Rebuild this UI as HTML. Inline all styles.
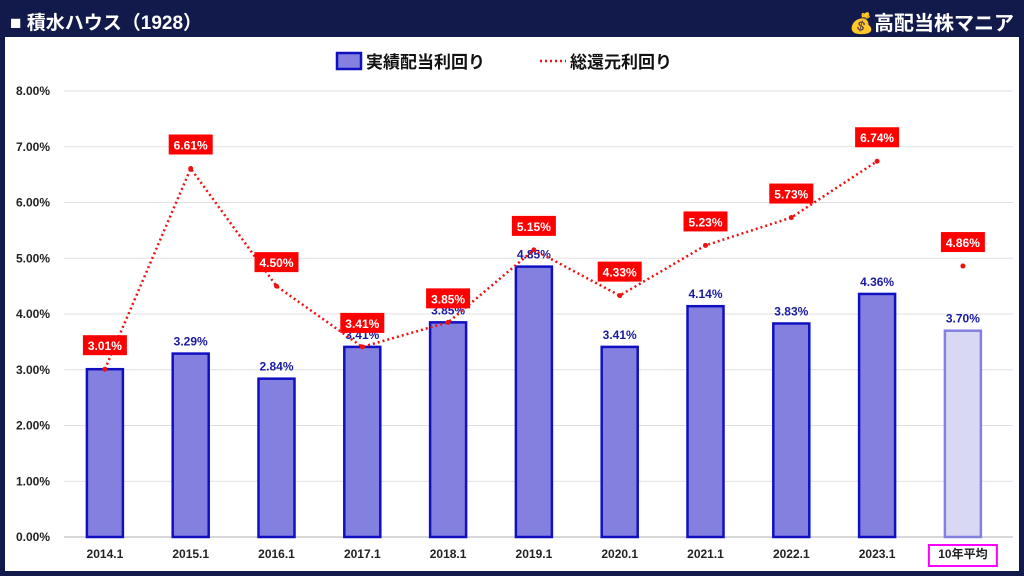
<!DOCTYPE html>
<html><head><meta charset="utf-8"><style>
body{margin:0;width:1024px;height:576px;background:#111a4a;font-family:"Liberation Sans","Noto Sans CJK JP",sans-serif;overflow:hidden}
#panel{position:absolute;left:5px;top:37px;width:1014px;height:534px;background:#fff}
</style></head><body>
<div style="position:absolute;left:10px;top:8px;color:#fff;font-size:19px;font-weight:bold;">■ 積水ハウス（1928）</div>
<div style="position:absolute;right:10px;top:7px;color:#fff;font-size:20px;font-weight:bold;"><span style="color:#f0c020">💰</span>高配当株マニア</div>
<div id="panel"></div>
<svg id="c" width="1024" height="576" style="position:absolute;left:0;top:0"></svg>
<script>
const categories=["2014.1","2015.1","2016.1","2017.1","2018.1","2019.1","2020.1","2021.1","2022.1","2023.1","10年平均"];
const dividendYield=[3.01,3.29,2.84,3.41,3.85,4.85,3.41,4.14,3.83,4.36,3.70];
const totalYield=[3.01,6.61,4.50,3.41,3.85,5.15,4.33,5.23,5.73,6.74,4.86];
const yTicks=[0,1,2,3,4,5,6,7,8];
const NS="http://www.w3.org/2000/svg";
const svg=document.getElementById('c');
const y0=537,pxPer=55.75,xl=62,band=85.8;
const Y=v=>y0-v*pxPer;
const X=i=>xl+band*(i+0.5);
function el(t,a,txt){const e=document.createElementNS(NS,t);for(const k in a)e.setAttribute(k,a[k]);if(txt!==undefined)e.textContent=txt;svg.appendChild(e);return e;}
yTicks.forEach(t=>{
 const g=el('line',{x1:64,x2:1013,y1:Y(t),y2:Y(t),stroke:t===0?'#d8d8d8':'#e0e0e0','stroke-width':t===0?2:1});
 
 
 const l=el('text',{x:50,y:Y(t)+4,'text-anchor':'end','font-size':12,fill:'#222','font-weight':'bold'},t.toFixed(2)+'%');
 
 
});
categories.forEach((c,i)=>{
 const avg=i===categories.length-1;
 const v=dividendYield[i];
 const b=el('rect',{x:X(i)-18,y:Y(v),width:36,height:y0-Y(v),fill:avg?'#d8d8f4':'#8480e0',stroke:avg?'#8480e0':'#1010c0','stroke-width':2.5});
 
 
 if(i!==0){const t=el('text',{x:X(i),y:Y(v)-8,'text-anchor':'middle','font-size':12,fill:'#1a1aa0','font-weight':'bold'},v.toFixed(2)+'%');
 
 }
 const xl2=el('text',{x:X(i),y:558,'text-anchor':'middle','font-size':12,fill:'#222','font-weight':'bold'},c);
 
 
 if(avg){const r=el('rect',{x:X(i)-34,y:545,width:68,height:21,fill:'none',stroke:'#ff00ff','stroke-width':2});
 
 }
});
let d='';
for(let i=0;i<categories.length-1;i++)d+=(i?'L':'M')+X(i)+' '+Y(totalYield[i]);
const ln=el('path',{d:d,fill:'none',stroke:'#ee1111','stroke-width':2.5,'stroke-dasharray':'2 3'});


totalYield.forEach((v,i)=>{
 const p=el('circle',{cx:X(i),cy:Y(v),r:2.5,fill:'#ee1111'});
 
 
 const r=el('rect',{x:X(i)-22,y:Y(v)-34,width:44,height:20,fill:'#ff0000'});
 
 
 const t=el('text',{x:X(i),y:Y(v)-19,'text-anchor':'middle','font-size':12,fill:'#fff','font-weight':'bold'},v.toFixed(2)+'%');
 
 
});
const lg1=el('rect',{x:337,y:53,width:24,height:16,fill:'#8480e0',stroke:'#1010c0','stroke-width':2.5});


const lt1=el('text',{x:366,y:68,'font-size':17,fill:'#111','font-weight':'bold'},'実績配当利回り');


const lg2=el('line',{x1:540,x2:566,y1:61,y2:61,stroke:'#ee1111','stroke-width':2.5,'stroke-dasharray':'2 3'});


const lt2=el('text',{x:570,y:68,'font-size':17,fill:'#111','font-weight':'bold'},'総還元利回り');


</script>
</body></html>
